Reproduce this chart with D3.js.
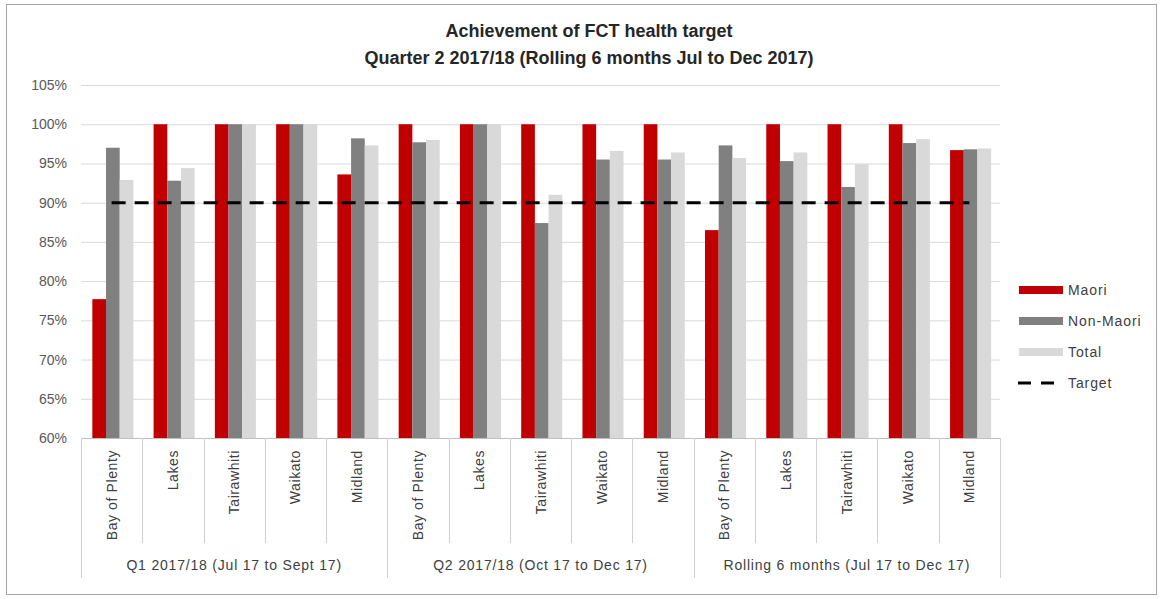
<!DOCTYPE html>
<html>
<head>
<meta charset="utf-8">
<script src="https://cdn.jsdelivr.net/npm/d3@7"></script>
<style>
  html, body { margin: 0; padding: 0; background: #fff; }
  svg { display: block; }
</style>
</head>
<body>
<svg id="chart" width="1162" height="599"></svg>
<script>
// Districts and reporting periods
const districts = ["Bay of Plenty", "Lakes", "Tairawhiti", "Waikato", "Midland"];
const periods = [
  "Q1 2017/18 (Jul 17 to Sept 17)",
  "Q2 2017/18 (Oct 17 to Dec 17)",
  "Rolling 6 months (Jul 17 to Dec 17)"
];
const seriesNames = ["Maori", "Non-Maori", "Total"];

// Achievement (%) per district, period by period
const maori    = [77.7, 100, 100, 100, 93.6,   100, 100, 100, 100, 100,   86.5, 100, 100, 100, 96.7];
const nonMaori = [97.0, 92.8, 100, 100, 98.2,  97.7, 100, 87.4, 95.5, 95.5, 97.3, 95.3, 92.0, 97.6, 96.8];
const total    = [92.9, 94.4, 100, 100, 97.3,  98.0, 100, 91.0, 96.6, 96.4, 95.7, 96.4, 94.9, 98.1, 96.9];
const target = 90;

const yTicks = [60, 65, 70, 75, 80, 85, 90, 95, 100, 105];

const colors = { "Maori": "#c00000", "Non-Maori": "#808080", "Total": "#d9d9d9" };

const rows = [];
periods.forEach((p, pi) => districts.forEach((d, di) => {
  const i = pi * districts.length + di;
  rows.push({ key: i, period: p, district: d,
    values: { "Maori": maori[i], "Non-Maori": nonMaori[i], "Total": total[i] } });
}));

const svg = d3.select("#chart");
const W = 1162, H = 599;
const m = { left: 81, right: 162, top: 85, bottom: 161 };
const plotW = W - m.left - m.right;   // 919
const plotH = H - m.top - m.bottom;   // 353

const sans = "'Liberation Sans', Arial, sans-serif";

// outer frame
svg.append("rect").attr("x", 6.5).attr("y", 4.5).attr("width", 1150).attr("height", 590)
  .attr("fill", "#fff").attr("stroke", "#a6a6a6").attr("stroke-width", 1);

svg.append("text").attr("x", 589).attr("y", 37).attr("text-anchor", "middle")
  .style("font-family", sans).style("font-weight", "bold").style("font-size", "18px")
  .attr("fill", "#262626").text("Achievement of FCT health target");
svg.append("text").attr("x", 589).attr("y", 64).attr("text-anchor", "middle")
  .style("font-family", sans).style("font-weight", "bold").style("font-size", "18px")
  .attr("fill", "#262626").text("Quarter 2 2017/18 (Rolling 6 months Jul to Dec 2017)");

const g = svg.append("g").attr("transform", `translate(${m.left},${m.top})`);

const x0 = d3.scaleBand().domain(rows.map(r => r.key)).range([0, plotW]).paddingInner(0).paddingOuter(0);
const x1 = d3.scaleBand().domain(seriesNames).range([x0.bandwidth() * 0.185, x0.bandwidth() * 0.855]).padding(0);
const y = d3.scaleLinear().domain([60, 105]).range([plotH, 0]);

// gridlines
g.append("g").attr("class", "grid")
  .call(d3.axisLeft(y).tickValues(yTicks).tickSize(-plotW).tickFormat(""))
  .call(s => s.select(".domain").remove())
  .call(s => s.selectAll("line").attr("stroke", "#d9d9d9").attr("stroke-width", 1));

// y axis labels
g.append("g").attr("class", "y-axis")
  .call(d3.axisLeft(y).tickValues(yTicks).tickSize(0).tickPadding(14).tickFormat(d => d + "%"))
  .call(s => s.select(".domain").remove())
  .call(s => s.selectAll("text").attr("fill", "#595959")
    .style("font-family", sans).style("font-size", "14px"));

// bars
const groups = g.selectAll("g.cat").data(rows).join("g").attr("class", "cat")
  .attr("transform", d => `translate(${x0(d.key)},0)`);
groups.selectAll("rect").data(d => seriesNames.map(s => ({ s, v: d.values[s] }))).join("rect")
  .attr("x", d => x1(d.s)).attr("width", x1.bandwidth())
  .attr("y", d => y(d.v)).attr("height", d => y(60) - y(d.v))
  .attr("fill", d => colors[d.s]);

// target line, from first to last category centre
const line = d3.line().x(d => x0(d.key) + x0.bandwidth() / 2).y(() => y(target));
g.append("path").datum([rows[0], rows[rows.length - 1]]).attr("d", line)
  .attr("fill", "none").attr("stroke", "#000").attr("stroke-width", 3)
  .attr("stroke-dasharray", "14 9");

// category axis
g.append("line").attr("x1", 0).attr("x2", plotW).attr("y1", plotH + 0.5).attr("y2", plotH + 0.5)
  .attr("stroke", "#bfbfbf");
const sepX = d3.range(rows.length + 1).map(i => i === rows.length ? plotW : x0(i));
g.selectAll("line.sep").data(sepX).join("line").attr("class", "sep")
  .attr("x1", d => Math.round(d) + 0.5).attr("x2", d => Math.round(d) + 0.5)
  .attr("y1", plotH).attr("y2", (d, i) => i % districts.length === 0 ? plotH + 140 : plotH + 105)
  .attr("stroke", "#d0d0d0");

g.selectAll("text.cat-label").data(rows).join("text").attr("class", "cat-label")
  .attr("transform", d => `translate(${x0(d.key) + x0.bandwidth() / 2 + 5},${plotH + 12}) rotate(-90)`)
  .attr("text-anchor", "end")
  .style("font-family", sans).style("font-size", "14px").style("letter-spacing", "0.6px")
  .attr("fill", "#404040").text(d => d.district);

g.selectAll("text.period-label").data(periods).join("text").attr("class", "period-label")
  .attr("x", (d, i) => (x0(i * 5) + x0(i * 5 + 4) + x0.bandwidth()) / 2)
  .attr("y", plotH + 132).attr("text-anchor", "middle")
  .style("font-family", sans).style("font-size", "14px").style("letter-spacing", "0.8px")
  .attr("fill", "#404040").text(d => d);

// legend
const lg = svg.append("g").attr("transform", "translate(1019,290)");
const legendItems = seriesNames.map(s => ({ name: s, type: "bar" })).concat([{ name: "Target", type: "line" }]);
const li = lg.selectAll("g").data(legendItems).join("g").attr("transform", (d, i) => `translate(0,${i * 31})`);
li.filter(d => d.type === "bar").append("rect").attr("x", 0).attr("y", -4).attr("width", 44).attr("height", 8)
  .attr("fill", d => colors[d.name]);
li.filter(d => d.type === "line").append("line").attr("x1", -1).attr("x2", 35).attr("y1", 0).attr("y2", 0)
  .attr("stroke", "#000").attr("stroke-width", 3).attr("stroke-dasharray", "13 10");
li.append("text").attr("x", 49).attr("y", 5)
  .style("font-family", sans).style("font-size", "14px").style("letter-spacing", "0.9px")
  .attr("fill", "#404040").text(d => d.name);
</script>
</body>
</html>
